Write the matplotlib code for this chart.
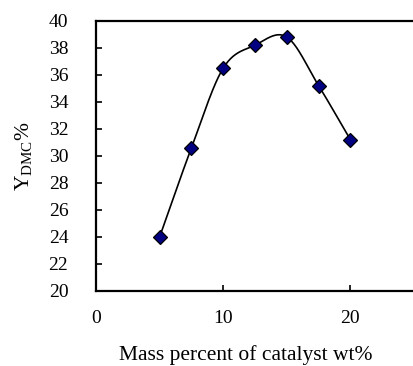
import numpy as np
import matplotlib
matplotlib.use("Agg")
import matplotlib.pyplot as plt

plt.rcParams['font.family'] = ['Liberation Serif', 'DejaVu Serif']
plt.rcParams['mathtext.fontset'] = 'custom'
plt.rcParams['mathtext.rm'] = 'Liberation Serif'

# catalyst loading (wt%) vs DMC yield (%)
catalyst = [5, 7.5, 10, 12.5, 15, 17.5, 20]
yield_dmc = [24.0, 30.6, 36.5, 38.2, 38.8, 35.2, 31.2]


def smooth(x, y, n=40):
    # Catmull-Rom spline through the points, like a spreadsheet "smoothed line"
    x = np.asarray(x, float)
    y = np.asarray(y, float)
    px = np.concatenate([[2 * x[0] - x[1]], x, [2 * x[-1] - x[-2]]])
    py = np.concatenate([[2 * y[0] - y[1]], y, [2 * y[-1] - y[-2]]])
    xs, ys = [], []
    t = np.linspace(0, 1, n)
    for i in range(1, len(px) - 2):
        for p, out in ((px, xs), (py, ys)):
            p0, p1, p2, p3 = p[i - 1], p[i], p[i + 1], p[i + 2]
            seg = 0.5 * ((2 * p1) + (-p0 + p2) * t
                         + (2 * p0 - 5 * p1 + 4 * p2 - p3) * t ** 2
                         + (-p0 + 3 * p1 - 3 * p2 + p3) * t ** 3)
            out.extend(seg)
    return np.array(xs), np.array(ys)


fig = plt.figure(figsize=(4.14, 3.66), dpi=100)
ax = fig.add_axes([0.232, 0.205, 0.768, 0.738])

sx, sy = smooth(catalyst, yield_dmc)
ax.plot(sx, sy, color='black', lw=1.2, zorder=2)
ax.plot(catalyst, yield_dmc, linestyle='none', marker='D', ms=7,
        markerfacecolor='#000080', markeredgecolor='black', markeredgewidth=0.9, zorder=3)

ax.set_xlim(0, 25)
ax.set_ylim(20, 40)
ax.set_xticks([0, 10, 20])
ax.set_yticks(np.arange(20, 41, 2))
ax.tick_params(axis='both', direction='in', length=4, width=1.2, labelsize=14)
ax.tick_params(axis='y', pad=20)
ax.tick_params(axis='x', pad=14)
for s in ax.spines.values():
    s.set_linewidth(1.6)
ax.spines['right'].set_visible(False)

ax.set_xlabel('Mass percent of catalyst wt%', fontsize=15.5)
ax.xaxis.set_label_coords(0.472, -0.2)
ax.set_ylabel(r'Y$_{\mathrm{DMC}}$%', fontsize=15.5, labelpad=10)

fig.savefig('out.png', dpi=100)
